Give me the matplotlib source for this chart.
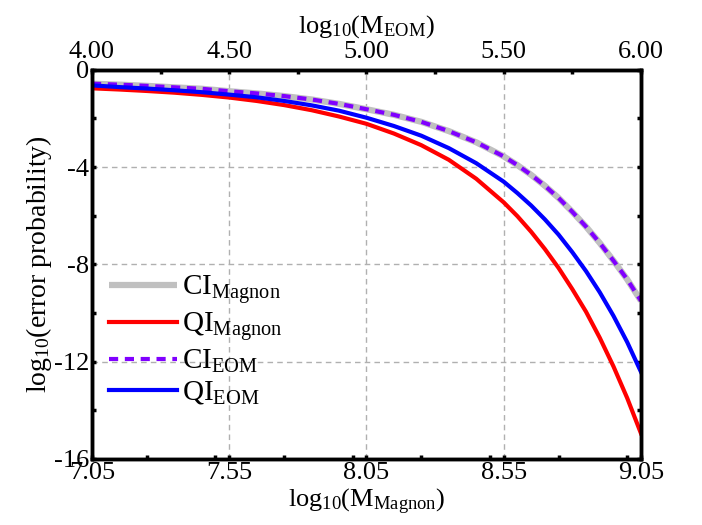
import matplotlib
matplotlib.use("Agg")
import matplotlib.pyplot as plt
from matplotlib.ticker import MultipleLocator, FixedLocator

plt.rcParams['font.family'] = ['Liberation Serif', 'DejaVu Serif']
plt.rcParams['mathtext.fontset'] = 'custom'
plt.rcParams['mathtext.rm'] = 'Liberation Serif'
plt.rcParams['mathtext.it'] = 'Liberation Serif:italic'

# log10(M_Magnon) sample points
x_magnon = [7.05, 7.15, 7.25, 7.35, 7.45, 7.55, 7.65, 7.75, 7.85, 7.95, 8.05,
            8.15, 8.25, 8.35, 8.45, 8.55, 8.60, 8.65, 8.70, 8.75, 8.80,
            8.85, 8.90, 8.95, 9.00, 9.05]

ci_magnon = [-0.57, -0.61, -0.66, -0.72, -0.78, -0.88, -0.97, -1.08, -1.22, -1.40, -1.62,
             -1.85, -2.14, -2.52, -2.98, -3.56, -3.92, -4.32, -4.77, -5.27, -5.84,
             -6.45, -7.12, -7.85, -8.62, -9.50]
qi_magnon = [-0.76, -0.81, -0.87, -0.94, -1.03, -1.14, -1.28, -1.45, -1.66, -1.92, -2.22,
             -2.62, -3.10, -3.70, -4.48, -5.45, -6.02, -6.66, -7.37, -8.15, -9.02,
             -9.95, -11.02, -12.20, -13.50, -14.95]
ci_eom = [-0.57, -0.61, -0.66, -0.72, -0.78, -0.88, -0.97, -1.08, -1.22, -1.40, -1.62,
          -1.85, -2.14, -2.52, -2.98, -3.56, -3.92, -4.32, -4.77, -5.27, -5.84,
          -6.45, -7.12, -7.85, -8.62, -9.50]
qi_eom = [-0.64, -0.71, -0.77, -0.84, -0.92, -1.02, -1.13, -1.28, -1.46, -1.68, -1.97,
          -2.31, -2.71, -3.22, -3.84, -4.60, -5.07, -5.58, -6.15, -6.78, -7.50,
          -8.28, -9.15, -10.12, -11.20, -12.42]

bottom_ticks = [7.05, 7.55, 8.05, 8.55, 9.05]
top_ticks = [4.00, 4.50, 5.00, 5.50, 6.00]
y_ticks = [-16, -12, -8, -4, 0]

fig = plt.figure(figsize=(7.02, 5.25), dpi=100)
ax = fig.add_axes([0.131, 0.126, 0.782, 0.741])

ax.plot(x_magnon, ci_magnon, color='#c0c0c0', lw=4.5, solid_capstyle='butt',
        label=r'CI$_{\rm Magnon}$')
ax.plot(x_magnon, qi_magnon, color='#ff0000', lw=3, label=r'QI$_{\rm Magnon}$')
ax.plot(x_magnon, ci_eom, color='#8000ff', lw=3, ls=(0, (2.2, 1.6)),
        label=r'CI$_{\rm EOM}$')
ax.plot(x_magnon, qi_eom, color='#0000ff', lw=3, label=r'QI$_{\rm EOM}$')

ax.set_xlim(7.05, 9.05)
ax.set_ylim(-16, 0)
ax.xaxis.set_major_locator(FixedLocator(bottom_ticks))
ax.xaxis.set_minor_locator(MultipleLocator(0.25))
ax.yaxis.set_major_locator(FixedLocator(y_ticks))
ax.yaxis.set_minor_locator(MultipleLocator(2))
ax.set_xticklabels([f'{v:.2f}' for v in bottom_ticks])
ax.set_yticklabels([str(v) for v in y_ticks])
ax.tick_params(which='both', direction='in', length=3, width=2.5,
               labelsize=19, right=True, pad=2)
ax.grid(True, which='major', ls=(0, (4, 3)), color='#b0b0b0', lw=1)
for s in ax.spines.values():
    s.set_linewidth(2.5)

ax.set_xlabel(r'log$_{10}$(M$_{\rm Magnon}$)', fontsize=19, labelpad=2)
ax.set_ylabel(r'log$_{10}$(error probability)', fontsize=20, labelpad=0)

top = ax.twiny()
top.set_xlim(4.0, 6.0)
top.xaxis.set_major_locator(FixedLocator(top_ticks))
top.xaxis.set_minor_locator(MultipleLocator(0.25))
top.set_xticklabels([f'{v:.2f}' for v in top_ticks])
top.tick_params(which='both', direction='in', length=3, width=2.5,
                labelsize=19, pad=5)
top.set_xlabel(r'log$_{10}$(M$_{\rm EOM}$)', fontsize=19, labelpad=6)
for s in top.spines.values():
    s.set_linewidth(2.5)

ax.legend(loc='lower left', bbox_to_anchor=(0.0, 0.09), frameon=False,
          fontsize=21, handlelength=2.3, labelspacing=0.15, handletextpad=0.2,
          borderaxespad=0.2)

fig.savefig('out.png', dpi=100)
